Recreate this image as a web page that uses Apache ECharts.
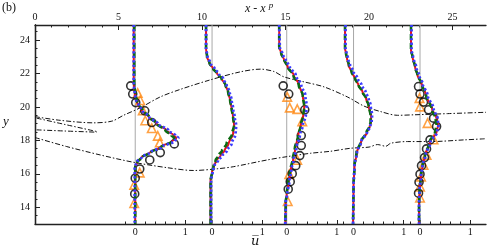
<!DOCTYPE html>
<html>
<head>
<meta charset="utf-8">
<script src="https://cdn.jsdelivr.net/npm/echarts@6/dist/echarts.min.js"></script>
<style>html,body{margin:0;padding:0;background:#fff}#c{width:497px;height:250px}</style>
</head>
<body>
<div id="c"></div>
<script>
// ---- data ----
const stationX = [6.0, 10.6, 15.07, 19.07, 23.05];   // x - x^p of each profile origin
const uScale = 3;                                     // x-units per unit of u-bar
const xTopTicks = [0, 5, 10, 15, 20, 25];
const yTicks = [14, 16, 18, 20, 22, 24];
const uMinorTicks = [-0.2, 0.2, 0.4, 0.6, 0.8];
const uMajorTicks = [0, 1];

// station 1
const s1Y     = [24.9, 22.0, 21.4, 20.8, 20.4, 20.1, 19.8, 19.4, 19.0, 18.6, 18.3, 18.15, 17.95, 17.6, 17.3, 17.0, 16.7, 16.4, 16.0, 13.0];
const s1Red   = [-0.03,-0.03,-0.03,-0.01,0.02,0.06,0.13,0.27,0.43,0.62,0.77,0.82,0.74,0.50,0.30,0.13,0.04,0.00,0.00,0.00];
const s1Green = [-0.02,-0.02,-0.02,0.00,0.03,0.08,0.15,0.28,0.43,0.60,0.72,0.78,0.74,0.52,0.32,0.14,0.04,0.00,0.00,0.00];
const s1Blue  = [-0.03,-0.03,-0.03,-0.01,0.02,0.07,0.14,0.28,0.45,0.66,0.80,0.86,0.78,0.52,0.31,0.13,0.03,-0.01,-0.01,-0.01];
// station 2
const s2Y     = [24.9, 23.5, 23.0, 22.6, 22.3, 22.0, 21.7, 21.3, 20.9, 20.4, 19.9, 19.4, 18.9, 18.4, 17.8, 17.4, 17.1, 16.8, 16.5, 16.1, 15.6, 13.0];
const s2Red   = [-0.12,-0.12,-0.10,-0.05,0.02,0.10,0.19,0.27,0.32,0.36,0.39,0.42,0.44,0.42,0.33,0.25,0.17,0.09,0.04,0.00,-0.03,-0.03];
const s2Green = [-0.12,-0.12,-0.10,-0.05,0.02,0.10,0.19,0.27,0.32,0.36,0.39,0.42,0.44,0.40,0.29,0.20,0.13,0.07,0.03,0.00,-0.03,-0.03];
const s2Blue  = [-0.12,-0.12,-0.09,-0.03,0.05,0.13,0.22,0.29,0.35,0.39,0.42,0.45,0.48,0.47,0.39,0.30,0.21,0.12,0.05,0.01,-0.02,-0.02];
// station 3
const s3Y     = [24.9, 23.6, 23.2, 22.8, 22.4, 21.9, 21.3, 20.7, 20.0, 19.5, 18.9, 18.3, 17.5, 16.9, 16.2, 15.5, 14.8, 14.3, 13.0];
const s3Red   = [-0.15,-0.15,-0.11,-0.05,0.02,0.14,0.25,0.32,0.35,0.33,0.28,0.23,0.17,0.13,0.08,0.04,0.00,-0.02,-0.03];
const s3Green = [-0.15,-0.15,-0.11,-0.05,0.02,0.13,0.24,0.32,0.35,0.33,0.28,0.23,0.16,0.12,0.07,0.03,0.00,-0.02,-0.03];
const s3Blue  = [-0.15,-0.14,-0.09,-0.02,0.06,0.18,0.29,0.37,0.40,0.38,0.32,0.26,0.19,0.14,0.09,0.05,0.01,-0.02,-0.03];
// station 4
const s4Y     = [24.9, 23.5, 23.2, 22.9, 22.5, 22.1, 21.7, 21.3, 20.9, 20.5, 20.1, 19.5, 19.1, 18.8, 18.5, 17.9, 17.3, 16.5, 15.3, 13.0];
const s4Red   = [-0.17,-0.17,-0.15,-0.13,-0.10,-0.04,0.03,0.10,0.18,0.25,0.30,0.35,0.35,0.32,0.27,0.15,0.07,0.02,0.00,-0.01];
const s4Green = [-0.17,-0.17,-0.15,-0.13,-0.09,-0.04,0.03,0.10,0.18,0.25,0.30,0.34,0.34,0.31,0.26,0.14,0.06,0.02,0.00,-0.01];
const s4Blue  = [-0.16,-0.16,-0.14,-0.11,-0.07,0.00,0.08,0.16,0.24,0.30,0.34,0.37,0.36,0.33,0.27,0.15,0.07,0.02,0.00,-0.01];
// station 5
const s5Y     = [24.9, 23.4, 23.0, 22.4, 21.9, 21.4, 20.7, 19.9, 19.3, 18.9, 18.5, 17.9, 17.1, 16.5, 15.9, 15.0, 14.0, 13.0];
const s5Red   = [-0.18,-0.18,-0.15,-0.10,-0.05,0.03,0.12,0.24,0.33,0.36,0.33,0.20,0.10,0.05,0.02,-0.01,-0.02,-0.02];
const s5Green = [-0.18,-0.18,-0.15,-0.10,-0.05,0.03,0.12,0.23,0.31,0.33,0.30,0.19,0.10,0.05,0.02,-0.01,-0.02,-0.02];
const s5Blue  = [-0.17,-0.17,-0.14,-0.08,-0.02,0.05,0.15,0.27,0.35,0.37,0.34,0.21,0.11,0.05,0.02,-0.01,-0.02,-0.02];

// measurements [u, y]
const circles1 = [[-0.09,21.26],[-0.05,20.77],[0.01,20.26],[0.19,19.77],[0.33,19.07],[0.78,17.79],[0.50,17.27],[0.29,16.83],[0.09,16.29],[0.00,15.74],[-0.01,14.80]];
const triangles1 = [[0.05,20.83],[0.10,20.40],[0.15,19.79],[0.20,19.19],[0.33,18.73],[0.45,18.27],[0.49,17.87],[0.09,16.07],[-0.02,15.34],[-0.02,14.24]];
const circles3 = [[-0.07,21.26],[0.04,20.77],[0.36,19.83],[0.29,18.29],[0.29,17.69],[0.26,17.09],[0.18,16.49],[0.11,16.01],[0.07,15.53],[0.03,15.08]];
const triangles3 = [[0.01,20.60],[0.06,19.96],[0.21,19.87],[0.31,19.13],[0.21,16.83],[0.05,15.98],[0.02,14.36]];
const circles5 = [[-0.03,21.22],[0.00,20.77],[0.07,20.29],[0.17,19.83],[0.27,19.33],[0.33,18.83],[0.20,18.03],[0.13,17.49],[0.09,16.97],[0.03,16.49],[0.00,15.98],[-0.02,15.50],[-0.03,14.84]];
const triangles5 = [[-0.01,20.53],[0.00,20.02],[0.15,19.03],[0.27,18.05],[0.13,17.13],[0.07,16.53],[0.02,15.83],[0.00,15.23],[0.00,14.57]];

// shear-layer edges [x, y]
const edgeUpper = [[0,19.42],[1.5,19.2],[3.5,19.05],[4.6,19.15],[5.3,19.5],[6.3,19.95],[7.5,20.6],[8.7,21.05],[10.5,21.62],[12.3,22.1],[13.5,22.26],[14.3,22.12],[14.9,21.8],[16.1,21.5],[17.3,21.2],[18.7,20.6],[19.7,20.05],[20.7,19.72],[21.7,19.5],[22.7,19.53],[24.7,19.6],[27,19.68]];
const edgeLower = [[0,18.17],[1.9,17.63],[3.9,17.13],[5.9,16.69],[7.9,16.37],[9.5,16.2],[10.9,16.3],[11.9,16.43],[13.9,16.83],[15.1,17.03],[16.5,17.23],[17.7,17.35],[18.9,17.53],[20.0,17.6],[20.5,17.75],[21.0,17.65],[21.3,17.83],[22.3,17.93],[23.7,17.93],[25.7,18.03],[27,18.1]];
const edgeShortA = [[0.1,19.33],[1.8,18.95],[3.7,18.53]];
const edgeShortB = [[0.1,18.63],[1.8,18.56],[3.7,18.49]];

// ---- build ----
const profiles = [
  [s1Y, s1Red, s1Green, s1Blue],
  [s2Y, s2Red, s2Green, s2Blue],
  [s3Y, s3Red, s3Green, s3Blue],
  [s4Y, s4Red, s4Green, s4Blue],
  [s5Y, s5Red, s5Green, s5Blue]
];
const symbolSets = [[circles1, triangles1, 0], [circles3, triangles3, 2], [circles5, triangles5, 4]];

const toXY = (x0, ys, us) => ys.map((y, k) => [x0 + uScale * us[k], y]);
const FONT = "'Liberation Serif', 'Times New Roman', serif";

const series = [];
stationX.forEach(x0 => {
  series.push({type: 'line', data: [[x0, 13], [x0, 24.9]], symbol: 'none', silent: true, z: 1,
    lineStyle: {color: '#a8a8a8', width: 1}});
});
[edgeUpper, edgeLower, edgeShortA, edgeShortB].forEach(d => {
  series.push({type: 'line', data: d, symbol: 'none', silent: true, z: 2, smooth: 0.3,
    lineStyle: {color: '#111', width: 1, type: [5, 2, 1.5, 2]}});
});
const modelStyles = [
  {color: '#e8101c', width: 2, type: 'solid'},
  {color: '#0b6b12', width: 2.6, type: [6, 3]},
  {color: '#3c3cff', width: 2.8, type: [2.2, 2.2]}
];
const triAll = [], cirAll = [];
symbolSets.forEach(([c, t, si]) => {
  const x0 = stationX[si];
  t.forEach(p => triAll.push([x0 + uScale * p[0], p[1]]));
  c.forEach(p => cirAll.push([x0 + uScale * p[0], p[1]]));
});
series.push({type: 'scatter', data: triAll, symbol: 'triangle', symbolSize: 8.5, z: 3, silent: true,
  itemStyle: {color: 'rgba(0,0,0,0)', borderColor: '#ff8a14', borderWidth: 1.6}});
series.push({type: 'scatter', data: cirAll, symbol: 'circle', symbolSize: 8, z: 4, silent: true,
  itemStyle: {color: 'rgba(0,0,0,0)', borderColor: '#000', borderWidth: 1.6}});
profiles.forEach((p, i) => {
  const x0 = stationX[i];
  [1, 2, 3].forEach((m, k) => {
    series.push({type: 'line', data: toXY(x0, p[0], p[m]), symbol: 'none', silent: true,
      smooth: 0.35, smoothMonotone: 'y', z: 5 + k, lineStyle: modelStyles[k]});
  });
});

const xTopMinor = [];
for (let v = 1; v <= 26; v++) if (v % 5 !== 0) xTopMinor.push(v);
const uMajorPos = [], uMinorPos = [];
stationX.forEach(x0 => {
  uMajorTicks.forEach(u => uMajorPos.push(x0 + uScale * u));
  uMinorTicks.forEach(u => uMinorPos.push(x0 + uScale * u));
});
const yMinor = [];
for (let v = 13.5; v < 24.9; v += 0.5) if (v % 2 !== 0) yMinor.push(v);

const axisCommon = {min: 0, max: 27, type: 'value', splitLine: {show: false}};
const lineSty = {color: '#222', width: 1.3};

const option = {
  animation: false,
  grid: {left: 35, right: 11, top: 25, bottom: 26, outerBoundsMode: 'none', containLabel: false},
  xAxis: [
    Object.assign({}, axisCommon, {position: 'top',
      axisLine: {show: true, lineStyle: lineSty},
      axisTick: {show: true, inside: true, length: 5, customValues: xTopTicks, lineStyle: {color: '#222', width: 1}},
      axisLabel: {show: true, customValues: xTopTicks, margin: 3, fontFamily: FONT, fontSize: 10, color: '#111'}}),
    Object.assign({}, axisCommon, {position: 'top',
      axisLine: {show: false},
      axisTick: {show: true, inside: true, length: 2.5, customValues: xTopMinor, lineStyle: {color: '#222', width: 1}},
      axisLabel: {show: false}}),
    Object.assign({}, axisCommon, {position: 'bottom',
      axisLine: {show: true, lineStyle: lineSty},
      axisTick: {show: true, inside: true, length: 4, customValues: uMajorPos, lineStyle: {color: '#222', width: 1}},
      axisLabel: {show: true, customValues: uMajorPos, margin: 3, fontFamily: FONT, fontSize: 10, color: '#111',
        formatter: v => stationX.some(x0 => Math.abs(x0 - v) < 1e-6) ? '0' : '1'}}),
    Object.assign({}, axisCommon, {position: 'bottom',
      axisLine: {show: false},
      axisTick: {show: true, inside: true, length: 2.5, customValues: uMinorPos, lineStyle: {color: '#222', width: 1}},
      axisLabel: {show: false}})
  ],
  yAxis: [
    {type: 'value', min: 13, max: 24.9, position: 'left', splitLine: {show: false},
      axisLine: {show: true, lineStyle: lineSty},
      axisTick: {show: true, inside: true, length: 5, customValues: yTicks, lineStyle: {color: '#222', width: 1}},
      axisLabel: {show: true, customValues: yTicks, margin: 5, fontFamily: FONT, fontSize: 10, color: '#111'}},
    {type: 'value', min: 13, max: 24.9, position: 'left', splitLine: {show: false},
      axisLine: {show: false},
      axisTick: {show: true, inside: true, length: 2.5, customValues: yMinor, lineStyle: {color: '#222', width: 1}},
      axisLabel: {show: false}},
    {type: 'value', min: 13, max: 24.9, position: 'right', splitLine: {show: false},
      axisLine: {show: true, lineStyle: lineSty}, axisTick: {show: false}, axisLabel: {show: false}}
  ],
  series: series,
  graphic: [
    {type: 'text', left: 2, top: 2, style: {text: '(b)', font: '12px ' + FONT, fill: '#111'}},
    {type: 'text', left: 245, top: 1, style: {
      text: '{i|x - x}{s|p}', fill: '#111',
      rich: {i: {fontFamily: FONT, fontStyle: 'italic', fontSize: 12, lineHeight: 15},
             s: {fontFamily: FONT, fontStyle: 'italic', fontSize: 9, verticalAlign: 'top', padding: [0, 0, 0, 3]}}}},
    {type: 'text', left: 3, top: 115, style: {text: 'y', font: 'italic 13px ' + FONT, fill: '#111'}},
    {type: 'text', left: 251, top: 235, style: {text: 'u\u0305', font: 'italic 13px "DejaVu Serif", serif', fill: '#111'}}
  ]
};
const chart = echarts.init(document.getElementById('c'), null, {renderer: 'canvas'});
chart.setOption(option);
</script>
</body>
</html>
